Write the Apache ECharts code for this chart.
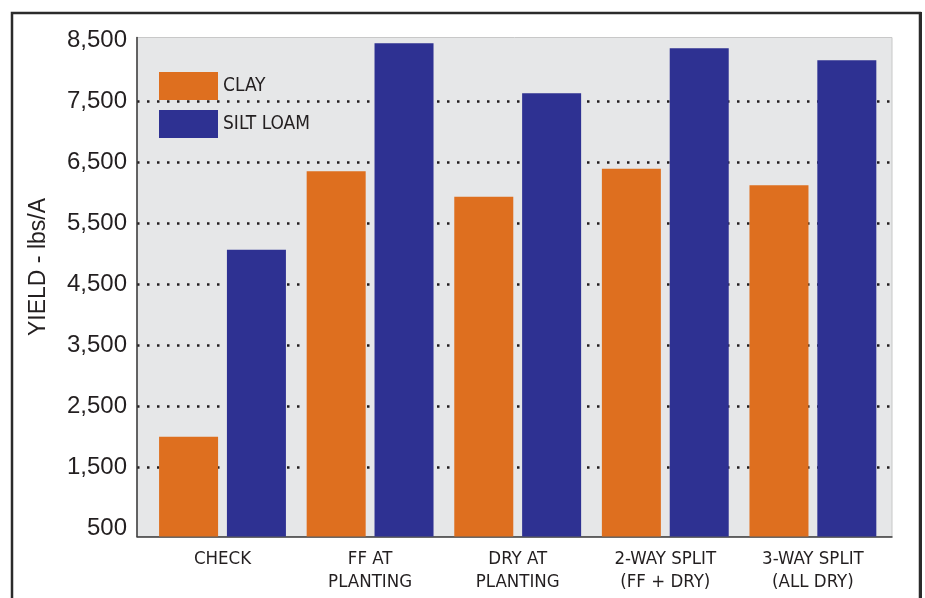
<!DOCTYPE html>
<html>
<head>
<meta charset="utf-8">
<title>Yield by soil type</title>
<script src="https://cdn.jsdelivr.net/npm/echarts@6/dist/echarts.min.js"></script>
<style>
  html, body { margin: 0; padding: 0; background: #ffffff; }
  #chart { width: 925px; height: 598px; }
</style>
</head>
<body>
<div id="chart"></div>
<script>
// Nitrogen timing treatments
const categories = ['CHECK', 'FF AT\nPLANTING', 'DRY AT\nPLANTING', '2-WAY SPLIT\n(FF + DRY)', '3-WAY SPLIT\n(ALL DRY)'];
// Yield, lbs/A
const clayYield = [2000, 6360, 5940, 6400, 6130];
const siltLoamYield = [5070, 8460, 7640, 8380, 8180];
const seriesNames = ['CLAY', 'SILT LOAM'];
// Axis label and grid line values
const yLabelValues = [500, 1500, 2500, 3500, 4500, 5500, 6500, 7500, 8500];
const yGridValues = [1500, 2500, 3500, 4500, 5500, 6500, 7500];
const yMin = 360;
const yMax = 8555;

const ORANGE = '#de6f1f';
const BLUE = '#2e3192';
const INK = '#231f20';
const NARROW = '"Liberation Sans Narrow", "DejaVu Sans Condensed", "Liberation Sans", sans-serif';
const SANS = '"Liberation Sans", Arial, Helvetica, sans-serif';

const chart = echarts.init(document.getElementById('chart'), null, { renderer: 'canvas' });

const plotTop = 37.5;
const plotBottom = 598 - 536.5;

chart.setOption({
  animation: false,
  backgroundColor: '#ffffff',
  grid: [
    // shaded plot panel carrying the value scale
    { left: 137, top: plotTop, width: 755, bottom: plotBottom, show: true,
      backgroundColor: '#e6e7e8', borderColor: '#c8c8c8', borderWidth: 1 },
    // bar layout area
    { left: 148.7, top: plotTop, width: 738, bottom: plotBottom }
  ],
  xAxis: [
    { gridIndex: 0, type: 'value', min: 0, max: 1,
      axisLine: { show: true, onZero: false, lineStyle: { color: '#3a3a3a', width: 1.5 } },
      axisTick: { show: false }, axisLabel: { show: false }, splitLine: { show: false } },
    { gridIndex: 1, type: 'category', data: categories,
      axisLine: { show: false }, axisTick: { show: false }, splitLine: { show: false },
      axisLabel: { color: INK, fontFamily: NARROW, fontSize: 18.5, lineHeight: 23, margin: 11,
        verticalAlign: 'top', interval: 0 } }
  ],
  yAxis: [
    { gridIndex: 0, type: 'value', min: yMin, max: yMax,
      axisLine: { show: true, lineStyle: { color: '#3a3a3a', width: 1.5 } },
      axisTick: { show: false, customValues: yGridValues },
      axisLabel: { customValues: yLabelValues, color: INK, fontFamily: SANS, fontSize: 24, margin: 10,
        formatter: v => Number(v).toLocaleString('en-US') },
      splitLine: { show: true, lineStyle: { color: INK, width: 2.5, type: [2.5, 7.5] } } },
    { gridIndex: 1, type: 'value', min: yMin, max: yMax, show: false,
      splitLine: { show: false } }
  ],
  legend: {
    orient: 'vertical', left: 154, top: 67, itemWidth: 59, itemHeight: 28, itemGap: 10,
    icon: 'rect', data: seriesNames,
    textStyle: { color: INK, fontFamily: NARROW, fontSize: 19 }
  },
  series: [
    { name: seriesNames[0], type: 'bar', xAxisIndex: 1, yAxisIndex: 1, data: clayYield,
      barWidth: 59, barGap: '15%', itemStyle: { color: ORANGE } },
    { name: seriesNames[1], type: 'bar', xAxisIndex: 1, yAxisIndex: 1, data: siltLoamYield,
      barWidth: 59, barGap: '15%', itemStyle: { color: BLUE } }
  ],
  graphic: [
    { type: 'rect', silent: true, shape: { x: 12, y: 13, width: 908, height: 640 },
      style: { fill: 'none', stroke: '#2b2b2b', lineWidth: 2.5 } },
    { type: 'line', silent: true, shape: { x1: 920.5, y1: 12, x2: 920.5, y2: 598 },
      style: { stroke: '#2b2b2b', lineWidth: 3 } },
    { type: 'text', silent: true, x: 38.5, y: 267, rotation: Math.PI / 2,
      style: { text: 'YIELD - lbs/A', fill: INK, fontFamily: SANS, fontSize: 23,
        align: 'center', verticalAlign: 'middle' } }
  ]
});
</script>
</body>
</html>
